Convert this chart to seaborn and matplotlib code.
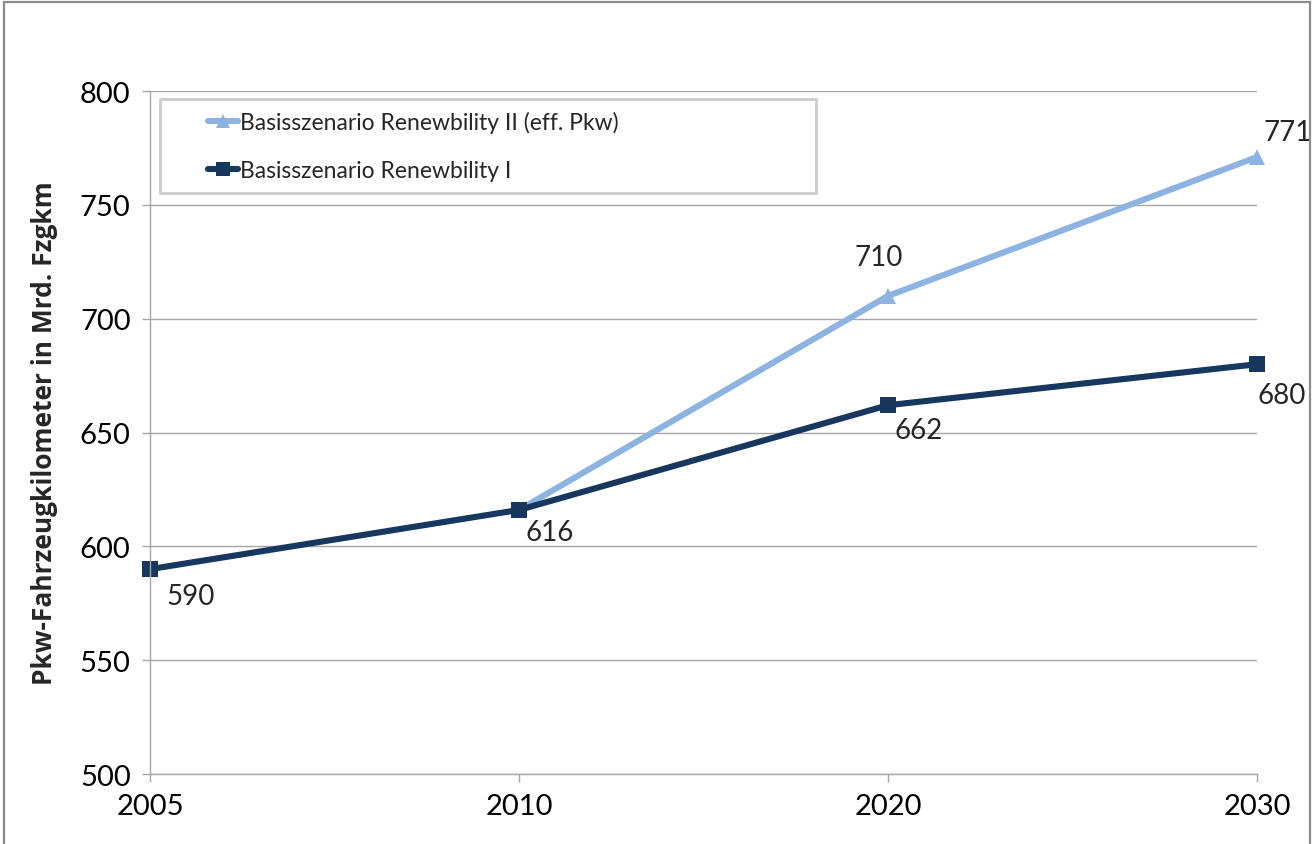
import matplotlib
matplotlib.use("Agg")
import matplotlib.pyplot as plt
import pandas as pd
import seaborn as sns
from matplotlib.legend_handler import HandlerLine2D
from matplotlib.lines import Line2D
from matplotlib.patches import Rectangle

YEARS = ["2005", "2010", "2020", "2030"]
SERIES_II = "Basisszenario Renewbility II (eff. Pkw)"
SERIES_I = "Basisszenario Renewbility I"
VALUES_II = [None, 616, 710, 771]
VALUES_I = [590, 616, 662, 680]
Y_TICKS = [500, 550, 600, 650, 700, 750, 800]
Y_LABEL = "Pkw-Fahrzeugkilometer in Mrd. Fzgkm"

COLORS = {SERIES_II: "#8db3e2", SERIES_I: "#17375e"}
MARKERS = {SERIES_II: "^", SERIES_I: "s"}

sns.set_theme(style="white")
plt.rcParams["font.family"] = ["Lato", "DejaVu Sans"]

# years are evenly spaced categories -> use their index as x position
rows = []
for name, vals in [(SERIES_II, VALUES_II), (SERIES_I, VALUES_I)]:
    for pos, v in enumerate(vals):
        if v is not None:
            rows.append({"pos": pos, "value": v, "series": name})
df = pd.DataFrame(rows)

fig = plt.figure(figsize=(13.14, 8.45), dpi=100)
ax = fig.add_axes([0.1142, 0.0828, 0.8424, 0.8083])

sns.lineplot(
    data=df, x="pos", y="value", hue="series", style="series",
    hue_order=[SERIES_II, SERIES_I], style_order=[SERIES_II, SERIES_I],
    palette=COLORS, markers=MARKERS, dashes=False, linewidth=4.4,
    markersize=12, markeredgewidth=0, ax=ax,
)
for ln in ax.get_lines():
    ln.set_clip_on(False)

ax.set_xlim(0, len(YEARS) - 1)
ax.set_ylim(Y_TICKS[0], Y_TICKS[-1])
ax.set_yticks(Y_TICKS)
ax.set_xticks(range(len(YEARS)))
ax.set_xticklabels(YEARS)
ax.set_xlabel("")
ax.set_ylabel(Y_LABEL, fontsize=19, fontweight="bold", family="Open Sans", labelpad=16)

ax.yaxis.grid(True, color="#a6a6a6", linewidth=1.0)
ax.set_axisbelow(True)
for side in ["top", "right"]:
    ax.spines[side].set_visible(False)
for side in ["left", "bottom"]:
    ax.spines[side].set_color("#a6a6a6")
    ax.spines[side].set_linewidth(1.0)
ax.tick_params(axis="both", which="both", labelsize=21, colors="#a6a6a6",
               labelcolor="black", length=6, width=1.0, direction="out")
ax.tick_params(axis="y", pad=8)
ax.tick_params(axis="x", pad=8)
ax.yaxis.set_ticks_position("left")
ax.xaxis.set_ticks_position("bottom")

# data labels
label_offsets_i = [(29, -19), (22, -16), (22, -18), (18, -22)]
label_offsets_ii = [None, None, (-7, 28), (22, 18)]
for i, v in enumerate(VALUES_I):
    ax.annotate(str(v), (i, v), xytext=label_offsets_i[i], textcoords="offset points",
                ha="center", va="center", fontsize=20, annotation_clip=False)
for i, v in enumerate(VALUES_II):
    if v is None or label_offsets_ii[i] is None:
        continue
    ax.annotate(str(v), (i, v), xytext=label_offsets_ii[i], textcoords="offset points",
                ha="center", va="center", fontsize=20, annotation_clip=False)

handles, labels = ax.get_legend_handles_labels()
leg = ax.legend(
    handles, labels, loc="upper left", bbox_to_anchor=(0.009, 0.988, 0.593, 0.0),
    mode="expand", borderaxespad=0, frameon=True, fancybox=False, fontsize=16.5,
    handlelength=2.9, handletextpad=0.1, labelspacing=1.2, borderpad=0.5,
    handler_map={Line2D: HandlerLine2D(xpad=1.6, numpoints=1)},
)
leg.get_frame().set_edgecolor("#bfbfbf")
leg.get_frame().set_linewidth(2.0)
for h in leg.legend_handles:
    h.set_markersize(10)

fig.patches.append(Rectangle((0.003, -0.01), 0.994, 1.006, transform=fig.transFigure,
                             fill=False, edgecolor="#8c8c8c", linewidth=1.6))

fig.savefig("out.png", dpi=100)
